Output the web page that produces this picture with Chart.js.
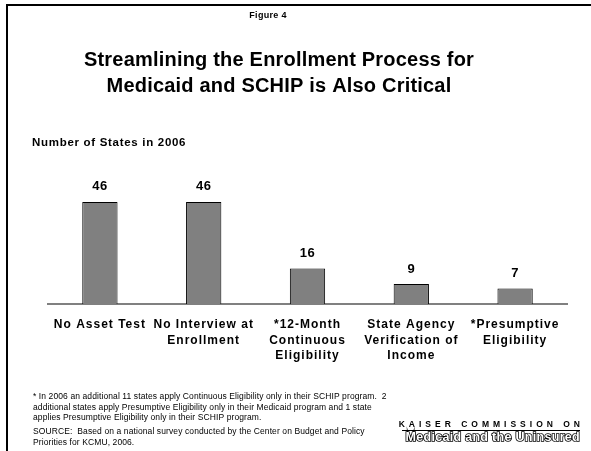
<!DOCTYPE html>
<html><head><meta charset="utf-8">
<script src="https://cdn.jsdelivr.net/npm/chart.js@4"></script>
<style>html,body{margin:0;padding:0;background:#fff;}canvas{display:block;}</style>
</head><body>
<canvas id="c" width="591" height="451"></canvas>
<script>
const categories = [
  ["No Asset Test"],
  ["No Interview at", "Enrollment"],
  ["*12-Month", "Continuous", "Eligibility"],
  ["State Agency", "Verification of", "Income"],
  ["*Presumptive", "Eligibility"]
];
const statesIn2006 = [46, 46, 16, 9, 7];
const figureLabel = "Figure 4";
const titleLines = ["Streamlining the Enrollment Process for", "Medicaid and SCHIP is Also Critical"];
const axisTitle = "Number of States in 2006";
const footnoteLines = [
  "* In 2006 an additional 11 states apply Continuous Eligibility only in their SCHIP program.  2",
  "additional states apply Presumptive Eligibility only in their Medicaid program and 1 state",
  "applies Presumptive Eligibility only in their SCHIP program."
];
const sourceLines = [
  "SOURCE:  Based on a national survey conducted by the Center on Budget and Policy",
  "Priorities for KCMU, 2006."
];
const logoLines = ["KAISER COMMISSION ON", "Medicaid and the Uninsured"];

const FONT = "Arial, 'Liberation Sans', Helvetica, sans-serif";

function spaced(ctx, px) { if ('letterSpacing' in ctx) ctx.letterSpacing = px + 'px'; }

const decor = {
  id: 'decor',
  beforeDraw(chart) {
    const ctx = chart.ctx;
    ctx.save();
    ctx.fillStyle = '#fff';
    ctx.fillRect(0, 0, chart.width, chart.height);
    ctx.strokeStyle = '#000';
    ctx.lineWidth = 2;
    ctx.beginPath();
    ctx.moveTo(591, 5);
    ctx.lineTo(7, 5);
    ctx.lineTo(7, 451);
    ctx.stroke();
    ctx.restore();
    spaced(ctx, 1);
  },
  beforeDatasetsDraw(chart) {
    spaced(chart.ctx, 0);
  },
  afterDraw(chart) {
    const ctx = chart.ctx;
    ctx.save();
    ctx.fillStyle = '#000';
    ctx.textBaseline = 'middle';
    ctx.textAlign = 'center';
    spaced(ctx, 0.3);
    ctx.font = "bold 9px " + FONT;
    ctx.fillText(figureLabel, 268, 16);
    spaced(ctx, 0.2);
    ctx.font = "bold 20px " + FONT;
    ctx.fillText(titleLines[0], 279, 60);
    ctx.fillText(titleLines[1], 279, 86);
    ctx.textAlign = 'left';
    spaced(ctx, 0.7);
    ctx.font = "bold 11.5px " + FONT;
    ctx.fillText(axisTitle, 32, 143);
    spaced(ctx, 0.1);
    ctx.font = "8.5px " + FONT;
    footnoteLines.forEach((t, i) => ctx.fillText(t, 33, 397 + i * 10.5));
    sourceLines.forEach((t, i) => ctx.fillText(t, 33, 432 + i * 10.5));
    // logo
    ctx.textAlign = 'right';
    ctx.font = "bold 8.5px " + FONT;
    spaced(ctx, 4);
    ctx.fillText(logoLines[0], 584, 425);
    spaced(ctx, 0);
    ctx.fillRect(402, 430, 178, 1);
    ctx.font = "bold 12.5px " + FONT;
    spaced(ctx, 0.3);
    ctx.lineWidth = 1.6;
    ctx.strokeStyle = '#000';
    ctx.strokeText(logoLines[1], 580, 438);
    ctx.fillStyle = '#fff';
    ctx.fillText(logoLines[1], 580, 438);
    ctx.restore();
  },
  afterDatasetsDraw(chart) {
    const ctx = chart.ctx;
    const meta = chart.getDatasetMeta(0);
    ctx.save();
    ctx.fillStyle = '#000';
    ctx.font = "bold 13px " + FONT;
    spaced(ctx, 0.5);
    ctx.textAlign = 'center';
    ctx.textBaseline = 'middle';
    meta.data.forEach((bar, i) => {
      ctx.fillText(String(statesIn2006[i]), bar.x, bar.y - 15);
    });
    ctx.restore();
  }
};

new Chart(document.getElementById('c'), {
  type: 'bar',
  data: {
    labels: categories,
    datasets: [{
      data: statesIn2006,
      backgroundColor: '#808080',
      borderColor: '#000',
      borderWidth: 1,
      borderSkipped: 'bottom',
      barPercentage: 0.34,
      categoryPercentage: 1
    }]
  },
  options: {
    responsive: false,
    animation: false,
    devicePixelRatio: 1,
    layout: { padding: { left: 48, right: 24, top: 193, bottom: 0 } },
    plugins: { legend: { display: false }, tooltip: { enabled: false }, title: { display: false } },
    scales: {
      y: { display: false, min: 0, max: 50 },
      x: {
        grid: { display: false, drawTicks: false },
        border: { display: true, color: '#808080', width: 2 },
        ticks: {
          color: '#000',
          font: { family: FONT, size: 12, weight: 'bold', lineHeight: 1.3 },
          padding: 13,
          maxRotation: 0,
          autoSkip: false
        },
        afterFit(scale) { scale.height = 147; }
      }
    }
  },
  plugins: [decor]
});
</script>
</body></html>
